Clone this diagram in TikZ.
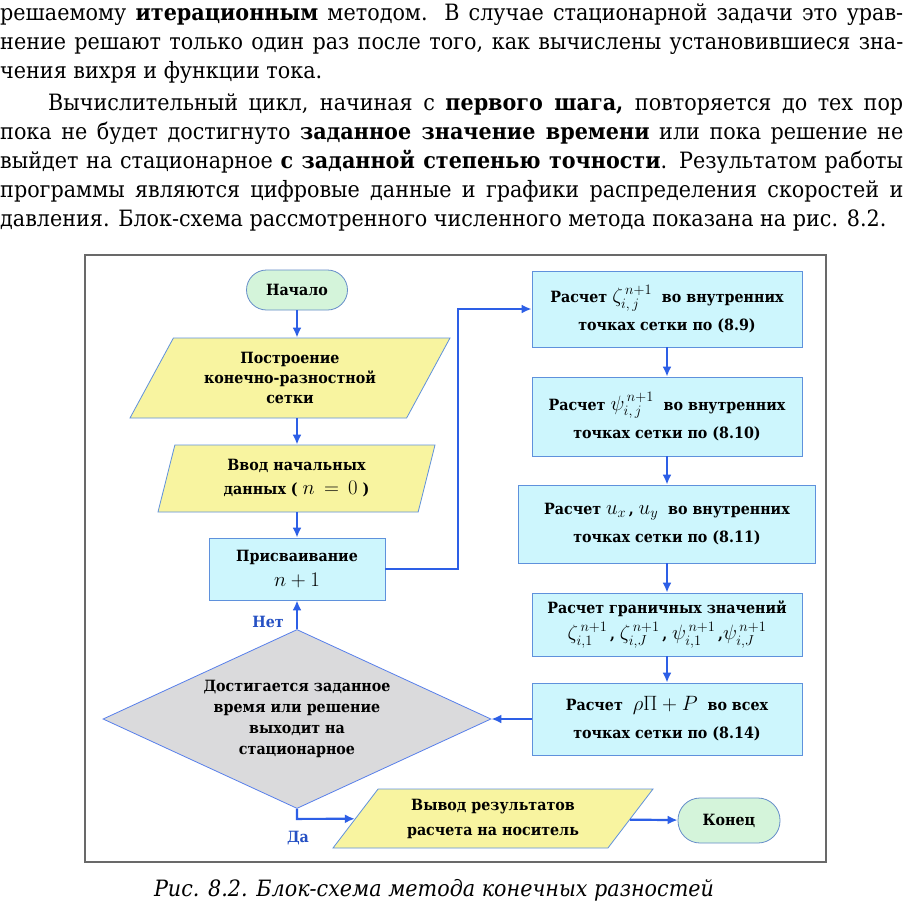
\documentclass[tikz,border=0pt]{standalone}
\usepackage{amsmath}
\usepackage{fontspec}
\setmainfont{DejaVu Serif}[FakeStretch=0.92]
\usepackage{tikz}
\usetikzlibrary{arrows.meta, shapes.geometric, positioning, calc}

\definecolor{flowblue}{RGB}{45,95,230}
\definecolor{edgeblue}{RGB}{95,145,220}
\definecolor{boxcyan}{RGB}{205,246,253}
\definecolor{boxyellow}{RGB}{248,244,160}
\definecolor{boxgreen}{RGB}{212,244,218}
\definecolor{boxgray}{RGB}{218,218,220}
\definecolor{framegray}{RGB}{105,105,105}

\newcommand{\boxfont}[1][20]{\bfseries\fontsize{15.5}{#1}\selectfont}
\newcommand{\mth}[1]{{\fontsize{20.74}{20}\selectfont$#1$}}

\begin{document}
\begin{tikzpicture}[x=1pt,y=-1pt,
        flow/.style={-{Latex[length=10pt,width=9pt]},line width=2.2pt,flowblue},
        calcbox/.style={rectangle,draw=edgeblue,fill=boxcyan,line width=0.8pt,minimum width=270pt,inner sep=2pt,align=center,font={\boxfont[28]}},
        datapar/.style={trapezium,trapezium stretches body,draw=edgeblue,fill=boxyellow,line width=0.8pt,inner sep=2pt,align=center,font=\boxfont},
        termbox/.style={rectangle,rounded corners=20pt,draw=edgeblue!80!gray,fill=boxgreen,line width=0.8pt,align=center,font=\boxfont},
        decision/.style={diamond,draw=flowblue!80,fill=boxgray,line width=0.8pt,inner sep=0pt},
        answer/.style={font=\boxfont,text=flowblue!85!black}]
        \path[fill=white] (0,0) rectangle (903,913);
        \useasboundingbox (0,0) rectangle (903,913);

            \node (body) at (0,4) [anchor=north west,inner sep=0pt,text width=903pt,align=justify,font=\fontsize{22.5}{29}\selectfont]
            {\noindent решаемому \textbf{итерационным} методом. В случае стационарной задачи это урав-\linebreak
             нение решают только один раз после того, как вычислены установившиеся зна-\linebreak
             чения вихря и функции тока.\par\vspace{3pt}
             \noindent\hspace*{48pt}Вычислительный цикл, начиная с \textbf{первого шага,} повторяется до тех пор\linebreak
             пока не будет достигнуто \textbf{заданное значение времени} или пока решение не\linebreak
             выйдет на стационарное \textbf{с заданной степенью точности}. Результатом работы\linebreak
             программы являются цифровые данные и графики распределения скоростей и\linebreak
             давления. Блок-схема рассмотренного численного метода показана на рис. 8.2.};

            \draw[framegray,line width=1.6pt] (85,255) rectangle (826,862);

            \node (start) at (297,290) [termbox,minimum width=101pt,minimum height=40pt] {Начало};
            \node (grid) at (290,378) [datapar,trapezium left angle=52,trapezium right angle=128,minimum width=320pt,minimum height=80pt] {Построение\\конечно-разностной\\сетки};
            \node (init) at (296.5,478.5) [datapar,trapezium left angle=68,trapezium right angle=112,minimum width=277pt,minimum height=67pt,font={\boxfont[24]}] {Ввод начальных\\данных ( \mth{n\,=\,0} )};
            \node (assign) at (297,569) [calcbox,minimum width=176pt,minimum height=62pt,font={\boxfont[25]}] {Присваивание\\\mth{n+1}};
            \node (check) at (297,719) [decision,minimum width=388pt,minimum height=179pt,
                label={[name=checktext,align=center,font={\boxfont[21]}]center:{Достигается заданное\\время или решение\\выходит на\\стационарное}}] {};
            \node (output) at (493,818.5) [datapar,trapezium left angle=44,trapezium right angle=136,minimum width=320pt,minimum height=59pt,font={\boxfont[25]}] {Вывод результатов\\расчета на носитель};
            \node (stop) at (729,820.5) [termbox,rounded corners=22pt,minimum width=102pt,minimum height=45pt] {Конец};

            \node (vort) at (667,309) [calcbox,minimum height=76pt] {Расчет \mth{\zeta^{\,n+1}_{i,\,j}} \ во внутренних\\точках сетки по (8.9)};
            \node (stream) at (667,416.5) [calcbox,minimum height=79pt] {Расчет \mth{\psi^{\,n+1}_{i,\,j}} \ во внутренних\\точках сетки по (8.10)};
            \node (veloc) at (667,524) [calcbox,minimum width=297pt,minimum height=78pt] {Расчет \mth{u_x}\,, \mth{u_y} \ во внутренних\\точках сетки по (8.11)};
            \node (bound) at (667,624.5) [calcbox,minimum height=63pt,font={\boxfont[26]}] {Расчет граничных значений\\\mth{\zeta^{\,n+1}_{i,1}}\,, \mth{\zeta^{\,n+1}_{i,J}}\,, \mth{\psi^{\,n+1}_{i,1}}\,,\mth{\psi^{\,n+1}_{i,J}}};
            \node (press) at (667,719) [calcbox,minimum height=72pt] {Расчет \ \mth{\rho\Pi+P} \ во всех\\точках сетки по (8.14)};

            \coordinate (loop) at (458,309);

            \draw[flow] (start.south) -- (start |- grid.north);
            \draw[flow] (start |- grid.south) -- (start |- init.north);
            \draw[flow] (start |- init.south) -- (assign.north);
            \draw[flow] (assign.east) -| (loop) -- (vort.west);
            \draw[flow] (vort) -- (stream);
            \draw[flow] (stream) -- (veloc);
            \draw[flow] (veloc) -- (bound);
            \draw[flow] (bound) -- (press);
            \draw[flow] (press.west) -- (check.east);
            \draw[flow] (check.north) -- (assign.south);
            \draw[flow] (check.south) -- ++(0,10) -- (output);
            \draw[flow] (output) -- (stop);

            \node (no) at (268,622) [answer] {Нет};
            \node (yes) at (298,838) [answer] {Да};

            \node (caption) at (434,890) [font=\itshape\fontsize{22.5}{28}\selectfont] {Рис. 8.2. Блок-схема метода конечных разностей};
        \end{tikzpicture}
\end{document}
